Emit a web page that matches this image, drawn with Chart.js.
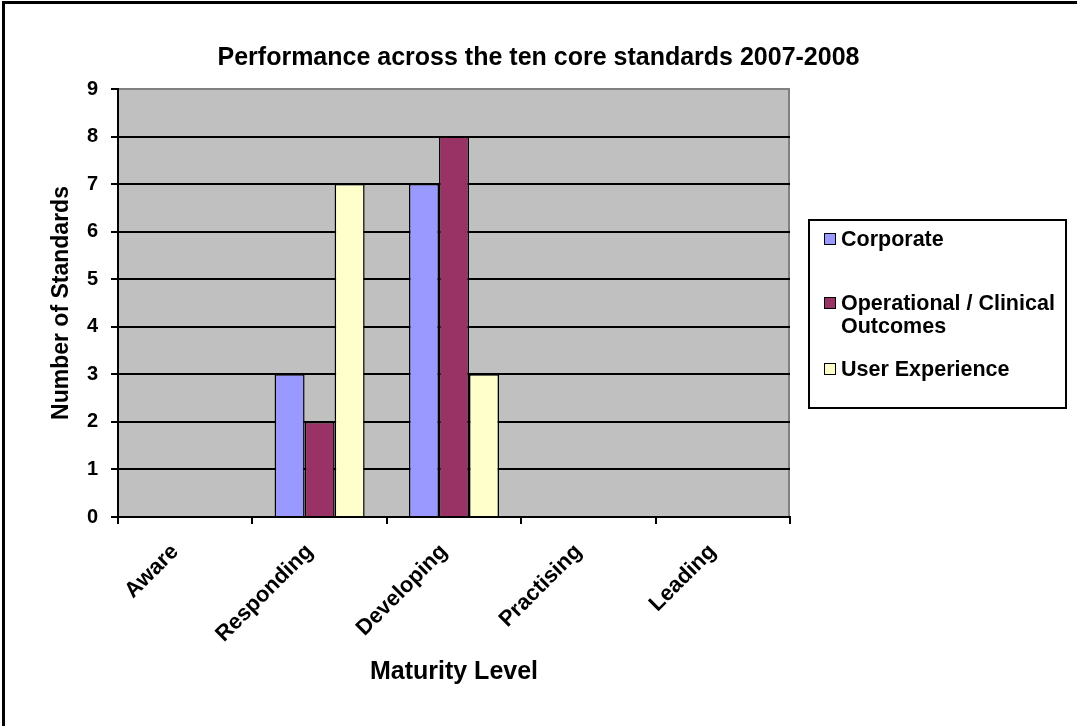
<!DOCTYPE html>
<html>
<head>
<meta charset="utf-8">
<script src="https://cdn.jsdelivr.net/npm/chart.js@4.4.0/dist/chart.umd.min.js"></script>
<style>
  body { margin: 0; background: #fff; }
  #wrap { position: relative; width: 1077px; height: 726px; font-family: "Liberation Sans", Arial, sans-serif; }
  #frame { position: absolute; left: 2px; top: 1px; right: 0; bottom: 0; border-top: 3px solid #000; border-left: 3px solid #000; pointer-events: none; }
  #legend { position: absolute; left: 808px; top: 219px; width: 259px; height: 190px; box-sizing: border-box; border: 2px solid #000; padding: 7px 4px 0 14px; }
  .item { display: flex; align-items: flex-start; font-weight: bold; font-size: 21.5px; line-height: 23px; color: #000; }
  .item:nth-child(2) { margin-top: 41px; }
  .item:nth-child(3) { margin-top: 20px; }
  .sw { flex: none; width: 10px; height: 10px; border: 1.5px solid #000; margin: 5px 5px 0 0; }
</style>
</head>
<body>
<div id="wrap">
  <canvas id="chart-1" width="1077" height="726"></canvas>
  <div id="legend"></div>
  <div id="frame"></div>
</div>
<script>
const categories = ["Aware", "Responding", "Developing", "Practising", "Leading"];
const seriesNames = ["Corporate", "Operational / Clinical Outcomes", "User Experience"];
const corporate = [0, 3, 7, 0, 0];
const operational = [0, 2, 8, 0, 0];
const userExperience = [0, 7, 3, 0, 0];
const seriesColors = ["#9999FF", "#993366", "#FFFFCC"];
const yMin = 0;
const yMax = 9;

const FONT = "'Liberation Sans', Arial, sans-serif";

// grey plot area with a darker right edge, like the old Excel default
const plotBg = {
  id: "plotBg",
  beforeDraw(chart) {
    const { ctx, chartArea: a } = chart;
    ctx.save();
    ctx.fillStyle = "#C0C0C0";
    ctx.fillRect(a.left, a.top, a.right - a.left, a.bottom - a.top);
    ctx.strokeStyle = "#808080";
    ctx.lineWidth = 2;
    ctx.beginPath();
    ctx.moveTo(a.right - 1, a.top);
    ctx.lineTo(a.right - 1, a.bottom);
    ctx.stroke();
    ctx.restore();
  },
};

const ctx_1 = document.getElementById("chart-1");
const chart = new Chart(ctx_1, {
  type: "bar",
  data: {
    labels: categories,
    datasets: [corporate, operational, userExperience].map((values, i) => ({
      label: seriesNames[i],
      data: values,
      backgroundColor: seriesColors[i],
      borderColor: "#000",
      borderWidth: 1.5,
      categoryPercentage: 0.67,
      barPercentage: 1,
    })),
  },
  options: {
    responsive: false,
    animation: false,
    layout: { padding: 0 },
    plugins: {
      legend: { display: false },
      tooltip: { enabled: false },
      title: {
        display: true,
        text: "Performance across the ten core standards 2007-2008",
        color: "#000",
        font: { family: FONT, size: 25, weight: "bold" },
        padding: { top: 43, bottom: 16 },
      },
    },
    scales: {
      x: {
        ticks: {
          color: "#000",
          font: { family: FONT, size: 22, weight: "bold" },
          minRotation: 45,
          maxRotation: 45,
          padding: 15,
          labelOffset: -10,
        },
        grid: {
          offset: true,
          drawOnChartArea: false,
          color: "#000",
          lineWidth: 2,
          tickLength: 7,
        },
        border: { color: "#000", width: 2 },
        title: {
          display: true,
          text: "Maturity Level",
          color: "#000",
          font: { family: FONT, size: 25, weight: "bold" },
          padding: { bottom: 39 },
        },
        afterFit(s) { s.height = 209; },
      },
      y: {
        min: yMin,
        max: yMax,
        ticks: {
          stepSize: 1,
          color: "#000",
          font: { family: FONT, size: 20, weight: "bold" },
          padding: 13,
        },
        grid: {
          color: (c) => (c.tick && c.tick.value === yMax ? "#808080" : "#000"),
          tickColor: "#000",
          lineWidth: 2,
          tickLength: 7,
        },
        border: { color: "#000", width: 2 },
        title: {
          display: true,
          text: "Number of Standards",
          color: "#000",
          font: { family: FONT, size: 23, weight: "bold" },
          padding: { top: 48 },
        },
        afterFit(s) { s.width = 118; },
      },
      // empty axis that keeps room for the legend on the right
      spacer: {
        position: "right",
        display: true,
        grid: { display: false },
        border: { display: false },
        ticks: { display: false },
        afterFit(s) { s.width = 1077 - 790; },
      },
    },
  },
  plugins: [plotBg],
});

const legendEl = document.getElementById("legend");
chart.data.datasets.forEach((ds) => {
  const row = document.createElement("div");
  row.className = "item";
  const sw = document.createElement("span");
  sw.className = "sw";
  sw.style.background = ds.backgroundColor;
  const txt = document.createElement("span");
  txt.textContent = ds.label;
  row.appendChild(sw);
  row.appendChild(txt);
  legendEl.appendChild(row);
});
</script>
</body>
</html>
